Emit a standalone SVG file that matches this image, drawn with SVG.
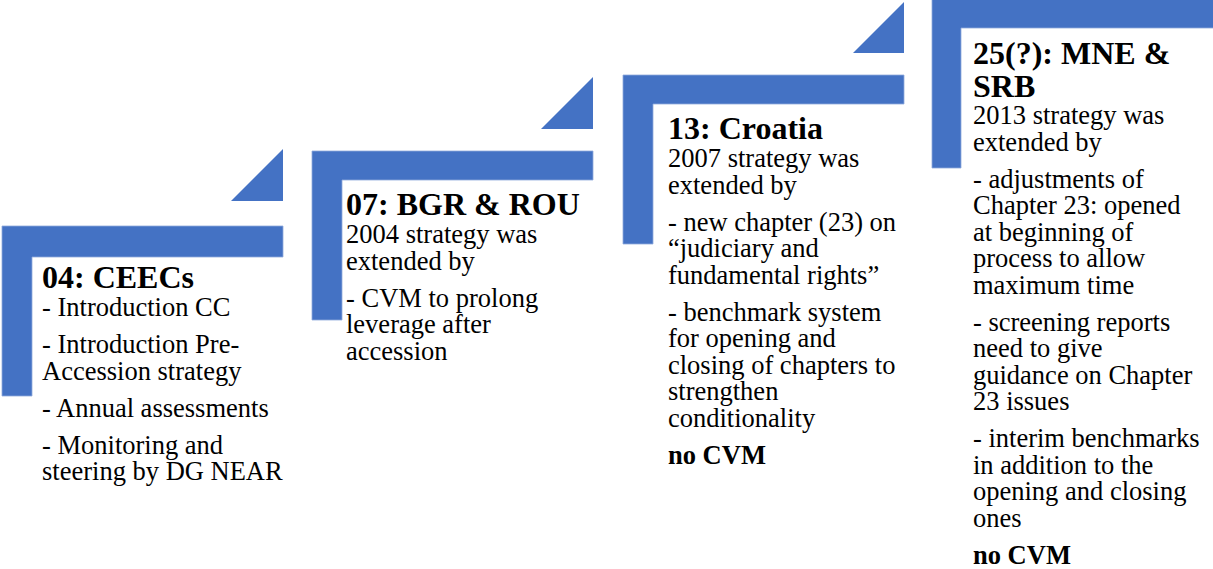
<svg xmlns="http://www.w3.org/2000/svg" width="1213" height="569" viewBox="0 0 1213 569">
<style>
.bar{fill:#4472C4;stroke:#8FAADC;stroke-width:0.8}
.tri{fill:#4472C4}
text{font-family:"Liberation Serif","Times New Roman",serif;fill:#000}
.t{font-size:32px;font-weight:bold}
.b{font-size:26.5px}
.nb{font-size:26.5px;font-weight:bold}
</style>
<rect width="1213" height="569" fill="#fff"/>
<g id="connectors"></g>
<g id="step1">
<path class="bar" d="M2,226H283V257H32V396H2Z"/>
<polygon class="tri" points="283,149 283,201 231,201"/>
<text class="t" x="42" y="288">04: CEECs</text>
<text class="b" x="42" y="316">- Introduction CC</text>
<text class="b" x="42" y="353">- Introduction Pre-</text>
<text class="b" x="42" y="379.5">Accession strategy</text>
<text class="b" x="42" y="416.5">- Annual assessments</text>
<text class="b" x="42" y="453.5">- Monitoring and</text>
<text class="b" x="42" y="480">steering by DG NEAR</text>
</g>
<g id="step2">
<path class="bar" d="M312,151H593V180H342V320H312Z"/>
<polygon class="tri" points="593,77 593,129 541,129"/>
<text class="t" x="346" y="215">07: BGR &amp; ROU</text>
<text class="b" x="346" y="243">2004 strategy was</text>
<text class="b" x="346" y="269.5">extended by</text>
<text class="b" x="346" y="306.5">- CVM to prolong</text>
<text class="b" x="346" y="333">leverage after</text>
<text class="b" x="346" y="359.5">accession</text>
</g>
<g id="step3">
<path class="bar" d="M623,75H904V104H653V244H623Z"/>
<polygon class="tri" points="904,2 904,53 853,53"/>
<text class="t" x="668" y="139">13: Croatia</text>
<text class="b" x="668" y="167">2007 strategy was</text>
<text class="b" x="668" y="193.5">extended by</text>
<text class="b" x="668" y="230.5">- new chapter (23) on</text>
<text class="b" x="668" y="257">“judiciary and</text>
<text class="b" x="668" y="283.5">fundamental rights”</text>
<text class="b" x="668" y="320.5">- benchmark system</text>
<text class="b" x="668" y="347">for opening and</text>
<text class="b" x="668" y="373.5">closing of chapters to</text>
<text class="b" x="668" y="400">strengthen</text>
<text class="b" x="668" y="426.5">conditionality</text>
<text class="nb" x="668" y="464">no CVM</text>
</g>
<g id="step4">
<path class="bar" d="M932,-1H1214V28H961V168H932Z"/>
<text class="t" x="973" y="64">25(?): MNE &amp;</text>
<text class="t" x="973" y="97">SRB</text>
<text class="b" x="973" y="124">2013 strategy was</text>
<text class="b" x="973" y="150.5">extended by</text>
<text class="b" x="973" y="187.5">- adjustments of</text>
<text class="b" x="973" y="214">Chapter 23: opened</text>
<text class="b" x="973" y="240.5">at beginning of</text>
<text class="b" x="973" y="267">process to allow</text>
<text class="b" x="973" y="293.5">maximum time</text>
<text class="b" x="973" y="330.5">- screening reports</text>
<text class="b" x="973" y="357">need to give</text>
<text class="b" x="973" y="383.5">guidance on Chapter</text>
<text class="b" x="973" y="410">23 issues</text>
<text class="b" x="973" y="447">- interim benchmarks</text>
<text class="b" x="973" y="473.5">in addition to the</text>
<text class="b" x="973" y="500">opening and closing</text>
<text class="b" x="973" y="526.5">ones</text>
<text class="nb" x="973" y="563.5">no CVM</text>
</g>
</svg>
